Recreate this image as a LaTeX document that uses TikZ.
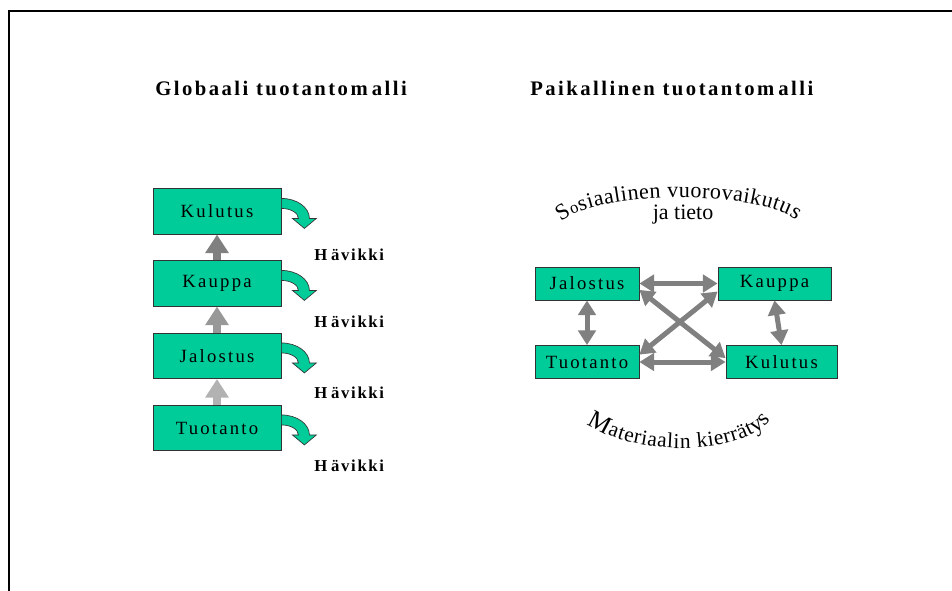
\documentclass[tikz,border=0pt]{standalone}
\usepackage{fontspec}
\setmainfont{Liberation Serif}
\newfontfamily\trackedfont[LetterSpace=12]{Liberation Serif}
\newfontfamily\widefont[LetterSpace=10]{Liberation Serif}
\usetikzlibrary{arrows.meta,decorations.text}

\definecolor{boxgreen}{HTML}{00CC99}
\definecolor{arrowgray}{HTML}{808080}
\definecolor{midgray}{HTML}{989898}
\definecolor{lightgray}{HTML}{B2B2B2}
\definecolor{edgegray}{HTML}{333333}

\tikzset{
  box/.style={draw=edgegray, line width=0.6pt, fill=boxgreen, inner sep=0pt,
    text=black, font=\trackedfont\fontsize{14}{16}\selectfont},
  bigbox/.style={box, minimum width=96pt, minimum height=34pt},
  smallbox/.style={box, minimum height=24.75pt},
  heading/.style={anchor=west, inner sep=0pt,
    font=\trackedfont\bfseries\fontsize{15.5}{18}\selectfont},
  losslabel/.style={anchor=west, inner sep=0pt,
    font=\widefont\bfseries\fontsize{12.5}{14}\selectfont},
  uparrow/.style={line width=6pt, -{Triangle[length=14pt,width=17pt]}},
  linkarrow/.style={arrowgray, line width=3.75pt,
    {Triangle[length=11pt,width=13pt]}-{Triangle[length=11pt,width=13pt]}},
  lossarrow/.pic={
    \filldraw[fill=boxgreen, draw=edgegray, line width=0.5pt]
      (0,10) .. controls (15.5,10) and (28,19) .. (28,30)
      -- (35,30) -- (23,40) -- (11,30) -- (17,30)
      .. controls (17,24.5) and (9.4,20) .. (0,20) -- cycle;
  }
}

\begin{document}
\begin{tikzpicture}[x=0.75pt, y=-0.75pt]
\useasboundingbox (0,0) rectangle (952,591);

% page frame (top and left edges)
\draw[line width=1.5pt, line cap=rect] (9,591) -- (9,11) -- (952,11);

% headings
\node[heading] (titleL) at (155,88) {Globaali tuotantom\kern3pt alli};
\node[heading] (titleR) at (530,88) {Paikallinen tuotantom\kern3pt alli};

% global production chain
\node[bigbox] (kulL) at (217,211.5) {Kulutus};
\node[bigbox] (kauL) at (217,283.5) {Kauppa};
\node[bigbox] (jalL) at (217,356)   {Jalostus};
\node[bigbox] (tuoL) at (217,428)   {Tuotanto};

\draw[uparrow, arrowgray] (kauL.north) -- (kulL.south);
\draw[uparrow, midgray]   (jalL.north) -- (kauL.south);
\draw[uparrow, lightgray] (tuoL.north) -- (jalL.south);

\pic at (kulL.north east) {lossarrow};
\pic at (kauL.north east) {lossarrow};
\pic at (jalL.north east) {lossarrow};
\pic at (tuoL.north east) {lossarrow};

\node[losslabel] (loss1) at (314,255) {H\kern3pt ävikki};
\node[losslabel] (loss2) at (314,322) {H\kern3pt ävikki};
\node[losslabel] (loss3) at (314,393) {H\kern3pt ävikki};
\node[losslabel] (loss4) at (314,466) {H\kern3pt ävikki};

% local production network
\node[smallbox, minimum width=78pt]    (jalR) at (587,283.5)   {Jalostus};
\node[smallbox, minimum width=84.75pt] (kauR) at (774.5,283.5) {Kauppa};
\node[smallbox, minimum width=78pt]    (tuoR) at (587,362)     {Tuotanto};
\node[smallbox, minimum width=83.25pt] (kulR) at (781.5,362)   {Kulutus};

\draw[linkarrow] (jalR.east)  -- (kauR.west);
\draw[linkarrow] (tuoR.east)  -- (kulR.west);
\draw[linkarrow] (jalR.-7)    -- (kulR.176);
\draw[linkarrow] (kauR.188)   -- (tuoR.8);
\draw[linkarrow] (jalR.south) -- (tuoR.north);
\draw[linkarrow] (kauR.south) -- (kulR.north);

% arched captions, letters spread over the whole arc
\path[decorate, decoration={text along path, text align={fit to path},
  text={|\fontsize{17}{17}\selectfont|S|\fontsize{12.5}{12.5}\selectfont|o|\fontsize{16.5}{16.5}\selectfont|siaalinen vuorovaikut|\fontsize{17}{17}\selectfont|us}}]
  (561,222) .. controls (599,190) and (758,190) .. (796,220);
\node[inner sep=0pt, font=\fontsize{16.5}{18}\selectfont] (info) at (683,215) {ja tieto};

\path[decorate, decoration={text along path, text align={fit to path},
  text={|\fontsize{19}{19}\selectfont|M|\fontsize{16}{16}\selectfont|ateriaalin kierrät|\fontsize{17}{17}\selectfont|ys}}]
  (587,424) .. controls (634,457) and (740,457) .. (771,420);
\end{tikzpicture}
\end{document}
